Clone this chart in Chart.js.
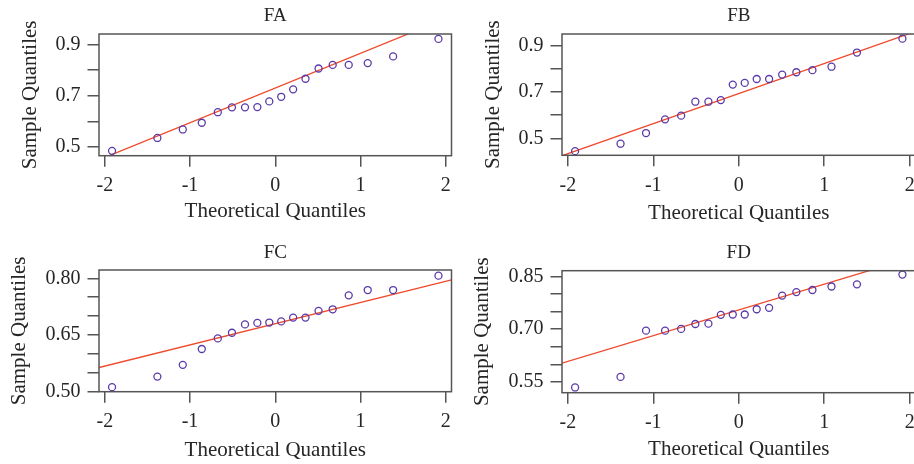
<!DOCTYPE html>
<html>
<head>
<meta charset="utf-8">
<script src="https://cdn.jsdelivr.net/npm/chart.js@4.4.1/dist/chart.umd.min.js"></script>
<style>
  html, body { margin: 0; padding: 0; background: #fff; }
  body { width: 914px; height: 464px; position: relative; overflow: hidden; }
  canvas { position: absolute; }
</style>
</head>
<body>
<canvas id="chartFA" width="470" height="232" style="left:0px;top:0px"></canvas>
<canvas id="chartFB" width="470" height="232" style="left:457px;top:0px"></canvas>
<canvas id="chartFC" width="470" height="232" style="left:0px;top:232px"></canvas>
<canvas id="chartFD" width="470" height="232" style="left:457px;top:232px"></canvas>
<script>
// theoretical quantiles (x axis, same 18 positions in every panel)
const theoQ = [-1.915, -1.383, -1.085, -0.862, -0.674, -0.508, -0.355, -0.210, -0.070,
               0.070, 0.210, 0.355, 0.508, 0.674, 0.862, 1.085, 1.383, 1.915];
const xTicks = [-2, -1, 0, 1, 2];
const xTickLabels = ['-2', '-1', '0', '1', '2'];
const lineX = [-2.068, 2.068];

// FA
const faSample = [0.486, 0.536, 0.569, 0.595, 0.636, 0.655, 0.655, 0.656, 0.678,
                  0.696, 0.725, 0.766, 0.806, 0.820, 0.820, 0.827, 0.853, 0.921];
const faLineY = [0.451, 1.009];
const faYTicks = [0.5, 0.6, 0.7, 0.8, 0.9];
const faYTickLabels = ['0.5', '', '0.7', '', '0.9'];

// FB
const fbSample = [0.445, 0.477, 0.523, 0.582, 0.598, 0.658, 0.658, 0.665, 0.732,
                  0.739, 0.756, 0.756, 0.775, 0.785, 0.794, 0.809, 0.870, 0.930];
const fbLineY = [0.425, 0.961];
const fbYTicks = [0.5, 0.6, 0.7, 0.8, 0.9];
const fbYTickLabels = ['0.5', '', '0.7', '', '0.9'];

// FC
const fcSample = [0.512, 0.540, 0.571, 0.613, 0.641, 0.656, 0.678, 0.682, 0.683,
                  0.686, 0.696, 0.696, 0.714, 0.718, 0.755, 0.769, 0.769, 0.807];
const fcLineY = [0.564, 0.796];
const fcYTicks = [0.50, 0.55, 0.60, 0.65, 0.70, 0.75, 0.80];
const fcYTickLabels = ['0.50', '', '', '0.65', '', '', '0.80'];

// FD
const fdSample = [0.534, 0.564, 0.696, 0.696, 0.701, 0.715, 0.716, 0.741, 0.742,
                  0.742, 0.757, 0.761, 0.796, 0.806, 0.812, 0.822, 0.828, 0.856];
const fdLineY = [0.603, 0.907];
const fdYTicks = [0.55, 0.60, 0.65, 0.70, 0.75, 0.80, 0.85];
const fdYTickLabels = ['0.55', '', '', '0.70', '', '', '0.85'];

/* ==============================
   PANEL GEOMETRY (canvas coords)
================================ */
const CANVAS_W = 470;
const CANVAS_H = 232;
const FONT = 'Liberation Serif';
const TEXT = '#262626';
const AXIS = '#555555';

const geoFA = { left: 99,  right: 451.5, top: 34,   bottom: 155.7, titleMid: 16,   xTitleMid: 211.7, yTitleMid: 30.5, yMin: 0.467, yMax: 0.940 };
const geoFB = { left: 105, right: 458.5, top: 34,   bottom: 155.3, titleMid: 16.5, xTitleMid: 213,   yTitleMid: 36,   yMin: 0.427, yMax: 0.950 };
const geoFC = { left: 99,  right: 451.5, top: 38,   bottom: 159.7, titleMid: 21,   xTitleMid: 218.3, yTitleMid: 19.2, yMin: 0.500, yMax: 0.822 };
const geoFD = { left: 105, right: 458.5, top: 38.7, bottom: 160.7, titleMid: 21,   xTitleMid: 217.5, yTitleMid: 25,   yMin: 0.519, yMax: 0.867 };

// full frame around the plot region
const boxPlugin = {
    id: 'boxPlugin',
    afterDatasetsDraw(chart) {
        const { ctx, chartArea } = chart;
        ctx.save();
        ctx.strokeStyle = AXIS;
        ctx.lineWidth = 1.5;
        ctx.strokeRect(chartArea.left, chartArea.top,
                       chartArea.right - chartArea.left, chartArea.bottom - chartArea.top);
        ctx.restore();
    }
};

function renderQQ(canvasId, titulo, sample, lineY, yTicks, yTickLabels, geo) {

    const ctx = document.getElementById(canvasId);
    if (!ctx) return;

    const titleFont = { family: FONT, size: 19, weight: 'normal', lineHeight: 1.2 };
    const titleLH = 19 * 1.2;
    const axisFont = { family: FONT, size: 21, lineHeight: 1.2 };
    const axisLH = 21 * 1.2;

    return new Chart(ctx, {
        type: 'scatter',
        data: {
            datasets: [
                {
                    type: 'line',
                    data: lineX.map((x, i) => ({ x, y: lineY[i] })),
                    borderColor: '#ee4a2c',
                    borderWidth: 1.3,
                    pointRadius: 0,
                    fill: false,
                    order: 2
                },
                {
                    data: theoQ.map((x, i) => ({ x, y: sample[i] })),
                    pointStyle: 'circle',
                    pointRadius: 3.5,
                    pointBorderWidth: 1.3,
                    borderColor: '#5a3aa8',
                    backgroundColor: 'rgba(0,0,0,0)',
                    order: 1
                }
            ]
        },
        plugins: [boxPlugin],
        options: {
            responsive: false,
            animation: false,
            events: [],
            layout: {
                padding: { left: 0, top: 0, bottom: 0, right: CANVAS_W - geo.right }
            },
            plugins: {
                legend: { display: false },
                tooltip: { enabled: false },
                title: {
                    display: true,
                    text: titulo,
                    color: TEXT,
                    font: titleFont,
                    fullSize: false,
                    padding: {
                        top: geo.titleMid - titleLH / 2,
                        bottom: geo.top - (geo.titleMid + titleLH / 2)
                    }
                }
            },
            scales: {
                x: {
                    type: 'linear',
                    min: lineX[0],
                    max: lineX[1],
                    afterBuildTicks: s => { s.ticks = xTicks.map(v => ({ value: v })); },
                    afterFit: s => { s.height = CANVAS_H - geo.bottom; },
                    border: { display: false },
                    grid: { drawOnChartArea: false, drawTicks: true, tickLength: 11, color: AXIS, lineWidth: 1.5 },
                    ticks: {
                        autoSkip: false,
                        color: TEXT,
                        padding: 7,
                        maxRotation: 0,
                        font: { family: FONT, size: 20 },
                        callback: (v, i) => xTickLabels[i]
                    },
                    title: {
                        display: true,
                        text: 'Theoretical Quantiles',
                        color: TEXT,
                        font: axisFont,
                        padding: { top: 0, bottom: CANVAS_H - geo.xTitleMid - axisLH / 2 }
                    }
                },
                y: {
                    type: 'linear',
                    min: geo.yMin,
                    max: geo.yMax,
                    afterBuildTicks: s => { s.ticks = yTicks.map(v => ({ value: v })); },
                    afterFit: s => { s.width = geo.left; },
                    border: { display: false },
                    grid: { drawOnChartArea: false, drawTicks: true, tickLength: 11.5, color: AXIS, lineWidth: 1.5 },
                    ticks: {
                        autoSkip: false,
                        color: TEXT,
                        padding: 7,
                        font: { family: FONT, size: 20 },
                        callback: (v, i) => yTickLabels[i]
                    },
                    title: {
                        display: true,
                        text: 'Sample Quantiles',
                        color: TEXT,
                        font: axisFont,
                        padding: { top: geo.yTitleMid - axisLH / 2, bottom: 0 }
                    }
                }
            }
        }
    });
}

renderQQ('chartFA', 'FA', faSample, faLineY, faYTicks, faYTickLabels, geoFA);
renderQQ('chartFB', 'FB', fbSample, fbLineY, fbYTicks, fbYTickLabels, geoFB);
renderQQ('chartFC', 'FC', fcSample, fcLineY, fcYTicks, fcYTickLabels, geoFC);
renderQQ('chartFD', 'FD', fdSample, fdLineY, fdYTicks, fdYTickLabels, geoFD);
</script>
</body>
</html>
